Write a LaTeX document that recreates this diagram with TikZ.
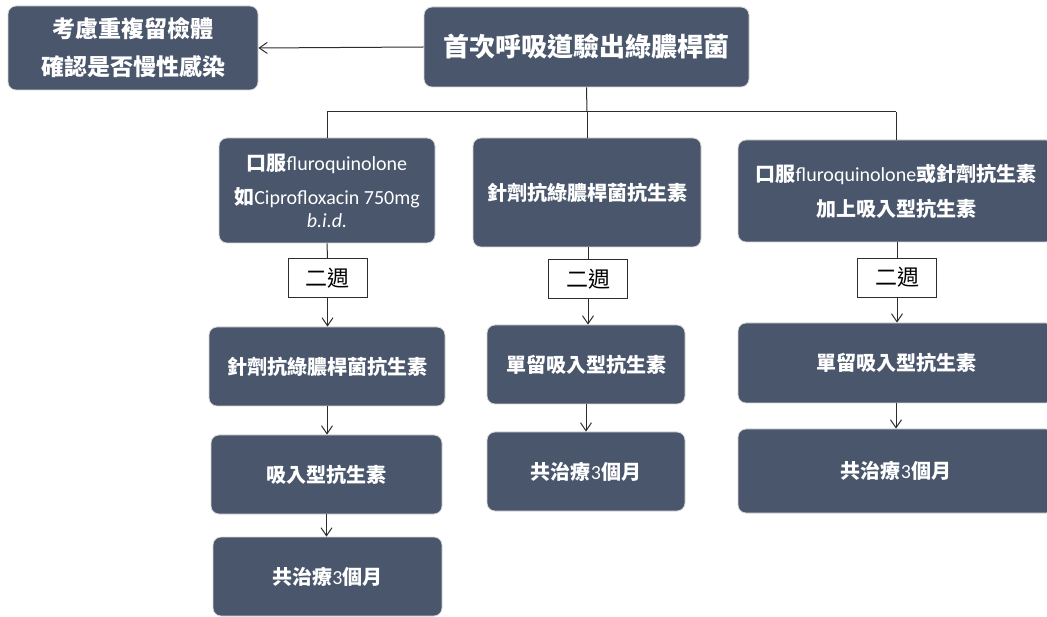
\documentclass[tikz,border=0pt]{standalone}
\usepackage{fontspec}
\setmainfont{Carlito}
\newfontfamily\cjk{Noto Sans CJK TC}
\usetikzlibrary{arrows.meta}
\definecolor{boxfill}{RGB}{73,86,108}
\definecolor{boxedge}{RGB}{215,215,215}
\definecolor{wirec}{RGB}{45,45,45}
\newcommand{\C}[1]{{\cjk\bfseries #1}}
\newcommand{\W}[1]{{\cjk #1}}
\begin{document}
\begin{tikzpicture}[x=1pt,y=-1pt,
  box/.style={draw=boxedge, line width=0.8pt, fill=boxfill, rounded corners=8pt, text=white, align=center, inner sep=0pt, font=\fontsize{20}{34}\selectfont},
  wk/.style={draw=wirec, line width=0.8pt, fill=white, inner sep=0pt, minimum width=79pt, minimum height=39pt, font=\fontsize{22}{26}\selectfont},
  wire/.style={draw=wirec, line width=1pt},
  arr/.style={wire, -{Straight Barb[length=8pt,width=11pt]}}]
\useasboundingbox (0,0) rectangle (1047,617);
% top row
\node[box, minimum width=325pt, minimum height=80pt, font=\fontsize{26}{30}\selectfont] (top) at (586.5,47) {\C{首次呼吸道驗出綠膿桿菌}};
\node[box, minimum width=250pt, minimum height=84pt, font=\fontsize{23}{38}\selectfont] (tl) at (133,48) {\C{考慮重複留檢體}\\\C{確認是否慢性感染}};
% first level
\node[box, minimum width=216pt, minimum height=105pt] (L1) at (327,190.5) {\C{口服}fluroquinolone\\\C{如}Ciprofloxacin 750mg\\[-11pt]\textit{b.i.d.}};
\node[box, minimum width=228pt, minimum height=109pt] (M1) at (587,192.5) {\C{針劑抗綠膿桿菌抗生素}};
\node[box, minimum width=316pt, minimum height=102pt, font=\fontsize{20}{35}\selectfont] (R1) at (896,191) {\C{口服}fluroquinolone\C{或針劑抗生素}\\\C{加上吸入型抗生素}};
% two-week labels
\node[wk] (Lw) at (327.5,278) {\W{二週}};
\node[wk] (Mw) at (588,279) {\W{二週}};
\node[wk] (Rw) at (897,277.5) {\W{二週}};
% left column
\node[box, minimum width=236pt, minimum height=79pt] (L2) at (327,366.5) {\C{針劑抗綠膿桿菌抗生素}};
\node[box, minimum width=231pt, minimum height=79pt] (L3) at (326.5,474.5) {\C{吸入型抗生素}};
\node[box, minimum width=229pt, minimum height=79pt] (L4) at (327.5,576.5) {\C{共治療}3\C{個月}};
% middle column
\node[box, minimum width=198pt, minimum height=79pt] (M2) at (586,364.5) {\C{單留吸入型抗生素}};
\node[box, minimum width=198pt, minimum height=79pt] (M3) at (586,471.5) {\C{共治療}3\C{個月}};
% right column
\node[box, minimum width=316pt, minimum height=80pt] (R2) at (896,363) {\C{單留吸入型抗生素}};
\node[box, minimum width=316pt, minimum height=84pt] (R3) at (896,471) {\C{共治療}3\C{個月}};
% connectors
\coordinate (bus) at (587,112);
\draw[arr] (top.west) -- (tl.east);
\draw[wire] (top.south) -- (bus);
\draw[wire] (L1.north |- bus) -- (R1.north |- bus);
\draw[wire] (L1.north |- bus) -- (L1.north);
\draw[wire] (bus) -- (M1.north);
\draw[wire] (R1.north |- bus) -- (R1.north);
\draw[wire] (L1.south) -- (Lw.north);
\draw[wire] (M1.south -| Mw.north) -- (Mw.north);
\draw[wire] (R1.south -| Rw.north) -- (Rw.north);
\draw[arr] (Lw.south) -- (L2.north -| Lw.south);
\draw[arr] (Mw.south) -- (M2.north -| Mw.south);
\draw[arr] (Rw.south) -- (R2.north -| Rw.south);
\draw[arr] (L2.south) -- (L3.north -| L2.south);
\draw[arr] (L3.south) -- (L4.north -| L3.south);
\draw[arr] (M2.south) -- (M3.north -| M2.south);
\draw[arr] (R2.south) -- (R3.north -| R2.south);
\end{tikzpicture}
\end{document}
